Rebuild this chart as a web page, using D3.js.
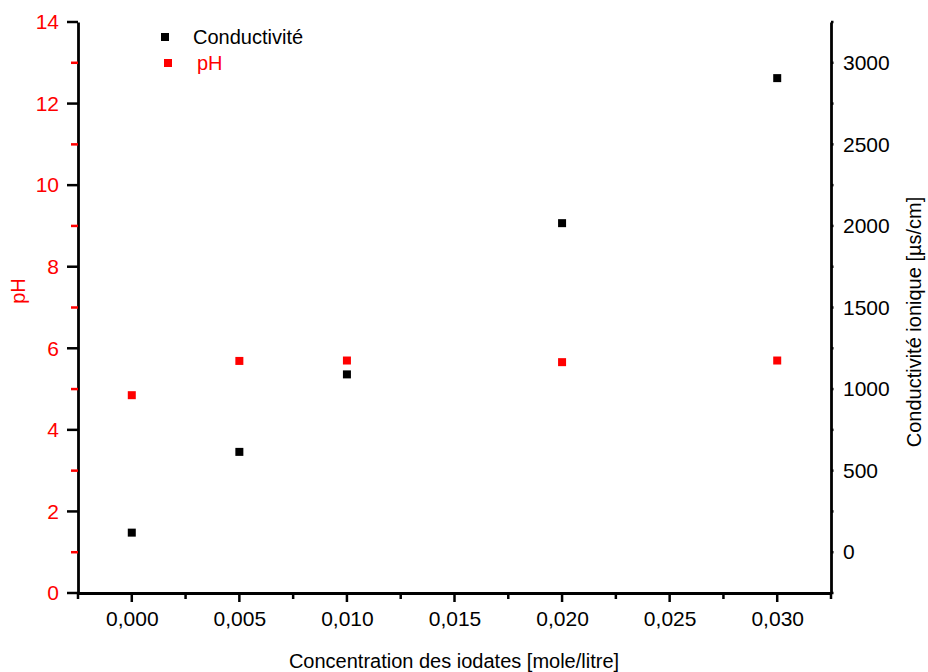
<!DOCTYPE html>
<html>
<head>
<meta charset="utf-8">
<script src="https://cdn.jsdelivr.net/npm/d3@7"></script>
<style>
  body { margin: 0; background: #fff; }
  svg { font-family: "Liberation Sans", Arial, sans-serif; }
</style>
</head>
<body>
<div id="chart"></div>
<script>
// données
const concentrations = [0.000, 0.005, 0.010, 0.020, 0.030];
const conductivite = [120, 615, 1090, 2017, 2906];
const pH = [4.85, 5.69, 5.70, 5.66, 5.70];

const xTicks = [0, 0.005, 0.010, 0.015, 0.020, 0.025, 0.030];
const pHTicks = [0, 2, 4, 6, 8, 10, 12, 14];
const condTicks = [0, 500, 1000, 1500, 2000, 2500, 3000];

const W = 928, H = 672;
const margin = { top: 22, right: 97, bottom: 79, left: 78 };
const width = W - margin.left - margin.right,
    height = H - margin.top - margin.bottom;

const svg = d3.select("#chart").append("svg")
    .attr("width", W)
    .attr("height", H);

const g = svg.append("g")
    .attr("transform", "translate(" + margin.left + "," + margin.top + ")");

const x = d3.scaleLinear().domain([-0.0025, 0.0325]).range([0, width]);
const yL = d3.scaleLinear().domain([0, 14]).range([height, 0]);
const yR = d3.scaleLinear().domain([-250, 3250]).range([height, 0]);

const fmtX = v => d3.format(".3f")(v).replace(".", ",");

// axe X
const xAxis = g.append("g")
    .attr("transform", "translate(0," + height + ")")
    .call(d3.axisBottom(x).tickValues(xTicks).tickFormat(fmtX).tickSize(0).tickPadding(18));
xAxis.select(".domain").attr("stroke", "#000").attr("stroke-width", 2.8);
xAxis.selectAll("text").attr("font-size", 21).attr("fill", "#000");

// axe pH
const yAxisL = g.append("g")
    .call(d3.axisLeft(yL).tickValues(pHTicks).tickFormat(d3.format("d")).tickSize(0).tickPadding(19));
yAxisL.select(".domain").attr("stroke", "#000").attr("stroke-width", 2.8);
yAxisL.selectAll("text").attr("font-size", 21).attr("fill", "red");

// axe conductivité
const yAxisR = g.append("g")
    .attr("transform", "translate(" + width + ",0)")
    .call(d3.axisRight(yR).tickValues(condTicks).tickFormat(d3.format("d")).tickSize(0).tickPadding(12));
yAxisR.select(".domain").attr("stroke", "#000").attr("stroke-width", 2.8);
yAxisR.selectAll("text").attr("font-size", 21).attr("fill", "#000");

// graduations (majeures + secondaires), dessinées par-dessus les axes
const xMinor = [-0.0025, 0.0025, 0.0075, 0.0125, 0.0175, 0.0225, 0.0275, 0.0325];
const gx = g.append("g").attr("transform", "translate(0," + height + ")");
gx.selectAll("line.min").data(xMinor).join("line").attr("class", "min")
    .attr("x1", d => x(d)).attr("x2", d => x(d))
    .attr("y1", 0).attr("y2", 6)
    .attr("stroke", "#000").attr("stroke-width", 2.5);
gx.selectAll("line.maj").data(xTicks).join("line").attr("class", "maj")
    .attr("x1", d => x(d)).attr("x2", d => x(d))
    .attr("y1", 0).attr("y2", 9)
    .attr("stroke", "#000").attr("stroke-width", 2.5);

const gl = g.append("g");
gl.selectAll("line.min").data(d3.range(1, 14, 2)).join("line").attr("class", "min")
    .attr("x1", -7).attr("x2", 0)
    .attr("y1", d => yL(d)).attr("y2", d => yL(d))
    .attr("stroke", "red").attr("stroke-width", 2.5);
gl.selectAll("line.maj").data(pHTicks).join("line").attr("class", "maj")
    .attr("x1", -11).attr("x2", 0)
    .attr("y1", d => yL(d)).attr("y2", d => yL(d))
    .attr("stroke", "#000").attr("stroke-width", 2.5);

g.append("g").attr("transform", "translate(" + width + ",0)")
    .selectAll("line").data(d3.range(-250, 3251, 250)).join("line")
    .attr("x1", 0).attr("x2", 2.5)
    .attr("y1", d => yR(d)).attr("y2", d => yR(d))
    .attr("stroke", "#000").attr("stroke-width", 2.5);

// points
const ms = 8;
g.append("g").selectAll("rect").data(concentrations).join("rect")
    .attr("x", (d, i) => x(d) - ms / 2)
    .attr("y", (d, i) => yR(conductivite[i]) - ms / 2)
    .attr("width", ms).attr("height", ms)
    .attr("fill", "#000");

g.append("g").selectAll("rect").data(concentrations).join("rect")
    .attr("x", (d, i) => x(d) - ms / 2)
    .attr("y", (d, i) => yL(pH[i]) - ms / 2)
    .attr("width", ms).attr("height", ms)
    .attr("fill", "red");

// titres des axes
svg.append("text")
    .attr("x", 454).attr("y", 668)
    .attr("text-anchor", "middle")
    .attr("font-size", 20)
    .text("Concentration des iodates [mole/litre]");

svg.append("text")
    .attr("transform", "translate(25,291) rotate(-90)")
    .attr("text-anchor", "middle")
    .attr("font-size", 20)
    .attr("fill", "red")
    .text("pH");

svg.append("text")
    .attr("transform", "translate(921,322) rotate(-90)")
    .attr("text-anchor", "middle")
    .attr("font-size", 20)
    .text("Conductivité ionique [µs/cm]");

// légende
const legend = [
    { label: "Conductivité", color: "#000", x: 165, y: 37, tx: 193 },
    { label: "pH", color: "red", x: 168, y: 63, tx: 197 }
];
const lg = svg.append("g").selectAll("g").data(legend).join("g");
lg.append("rect")
    .attr("x", d => d.x - 4).attr("y", d => d.y - 4)
    .attr("width", 8).attr("height", 8)
    .attr("fill", d => d.color);
lg.append("text")
    .attr("x", d => d.tx).attr("y", d => d.y + 7)
    .attr("font-size", 20)
    .attr("fill", d => d.color)
    .text(d => d.label);
</script>
</body>
</html>
